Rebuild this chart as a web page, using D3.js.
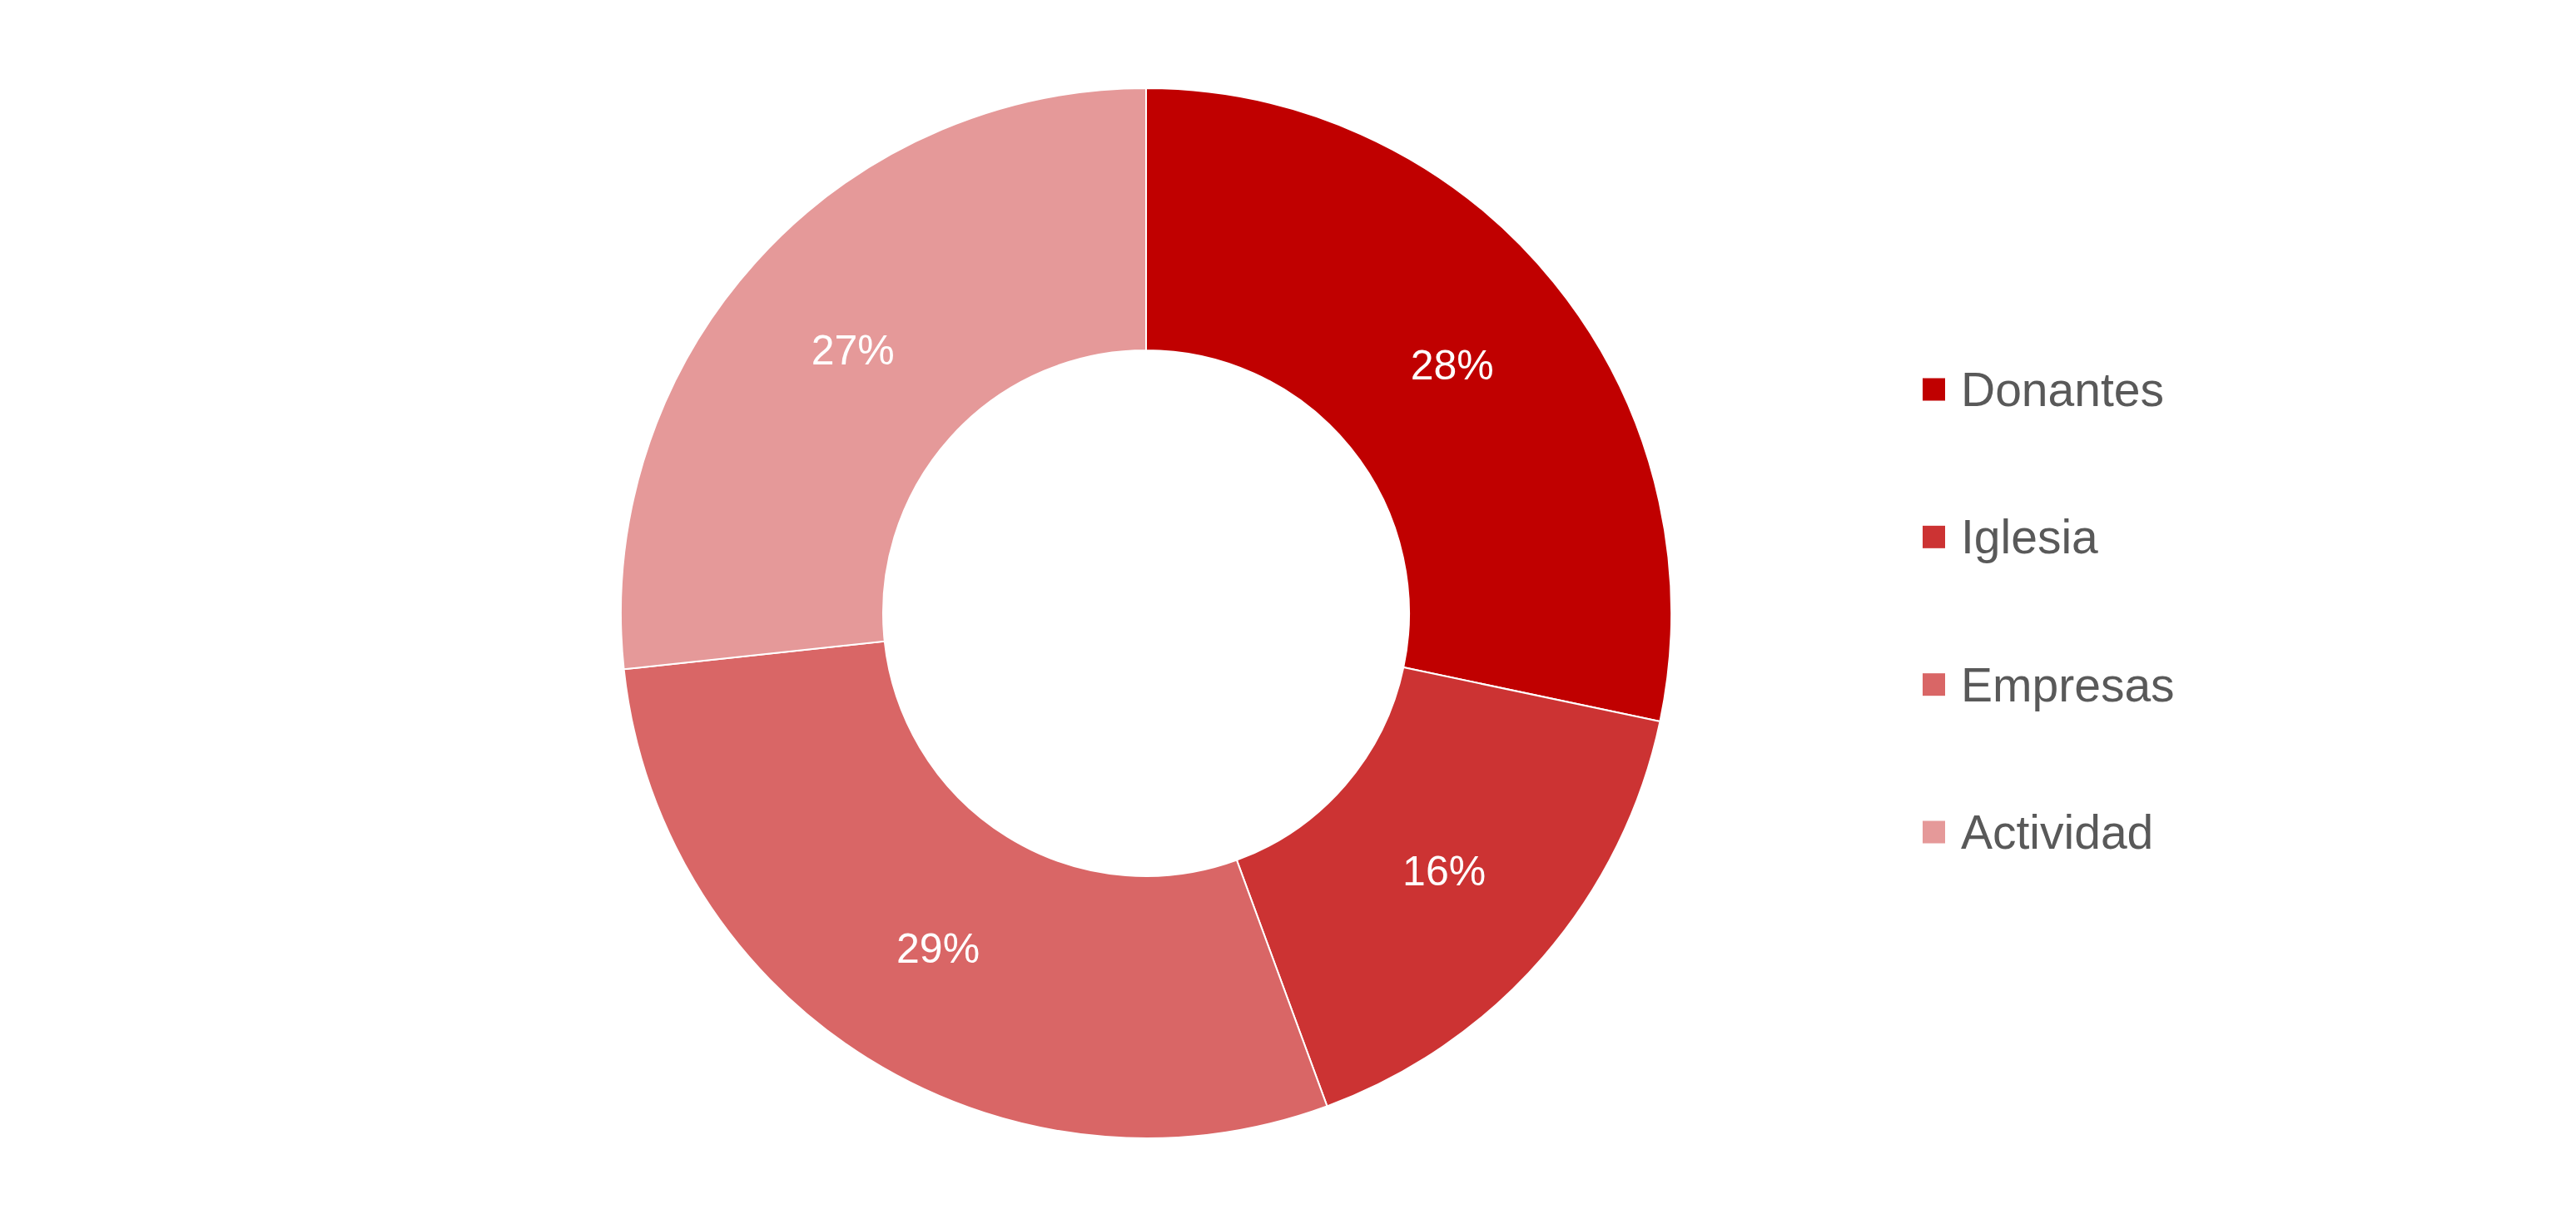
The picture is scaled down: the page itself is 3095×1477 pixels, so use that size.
<!DOCTYPE html>
<html>
<head>
<meta charset="utf-8">
<script src="https://cdn.jsdelivr.net/npm/d3@7"></script>
<style>
  html, body { margin: 0; padding: 0; background: #ffffff; }
  svg { display: block; }
</style>
</head>
<body>
<svg id="chart" width="3095" height="1477"></svg>
<script>
const categories = ["Donantes", "Iglesia", "Empresas", "Actividad"];
const values = [28.3, 16.1, 28.9, 26.7];
const labels = ["28%", "16%", "29%", "27%"];
const colors = ["#C00000", "#CC3333", "#D96666", "#E59999"];

const W = 3095, H = 1477;
const cx = 1377, cy = 737;
const outerR = 631, innerR = 316;

const svg = d3.select("#chart");
const data = categories.map((c, i) => ({ name: c, value: values[i], label: labels[i], color: colors[i] }));

const pie = d3.pie().value(d => d.value).sort(null);
const arc = d3.arc().innerRadius(innerR).outerRadius(outerR);
const arcs = pie(data);

const g = svg.append("g").attr("transform", `translate(${cx},${cy})`);
g.selectAll("path.slice")
  .data(arcs)
  .enter().append("path")
  .attr("class", "slice")
  .attr("d", arc)
  .attr("fill", d => d.data.color)
  .attr("stroke", "#ffffff")
  .attr("stroke-width", 2);

g.selectAll("text.lbl")
  .data(arcs)
  .enter().append("text")
  .attr("class", "lbl")
  .attr("transform", d => `translate(${arc.centroid(d)})`)
  .attr("dy", "0.35em")
  .attr("text-anchor", "middle")
  .attr("fill", "#ffffff")
  .style("font-family", "'Liberation Sans', Arial, sans-serif")
  .style("font-size", "50px")
  .text(d => d.data.label);

// Legend
const legendY = d3.scalePoint().domain(categories).range([468, 1000]);
const leg = svg.append("g");
const items = leg.selectAll("g.item").data(data).enter().append("g")
  .attr("class", "item")
  .attr("transform", d => `translate(2310,${legendY(d.name)})`);
items.append("rect")
  .attr("x", 0).attr("y", -13.5)
  .attr("width", 27).attr("height", 27)
  .attr("fill", d => d.color);
items.append("text")
  .attr("x", 46).attr("y", 0)
  .attr("dy", "0.35em")
  .attr("fill", "#595959")
  .style("font-family", "'Liberation Sans', Arial, sans-serif")
  .style("font-size", "57px")
  .text(d => d.name);
</script>
</body>
</html>
